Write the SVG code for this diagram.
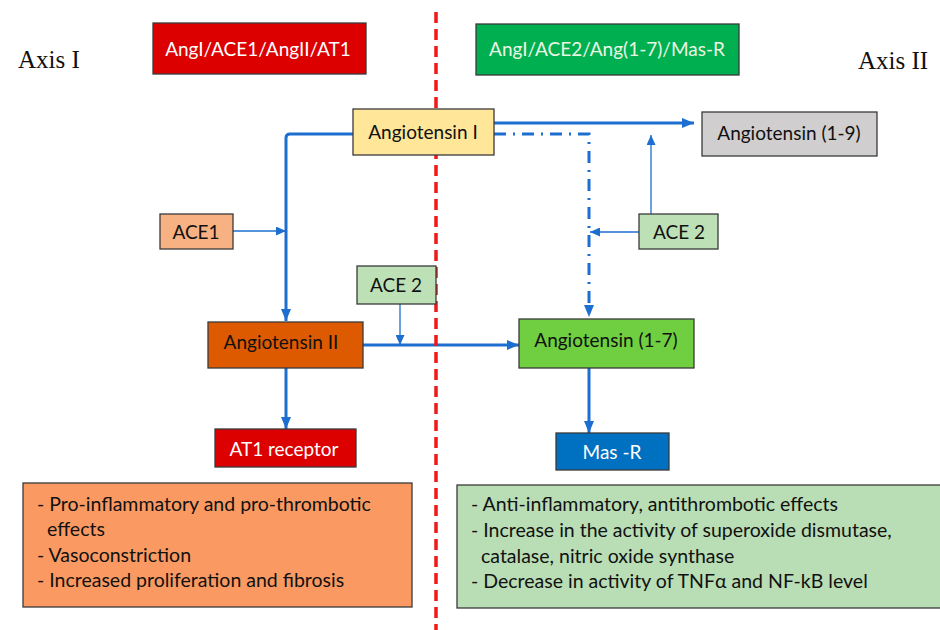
<svg xmlns="http://www.w3.org/2000/svg" width="940" height="630" viewBox="0 0 940 630">
<style>
.box{stroke:#3a3a3a;stroke-width:1.3}
.t{font-family:Lato,"Liberation Sans",sans-serif;font-size:19px;fill:#111;text-anchor:middle}
.w{fill:#fff}
.axis{font-family:"Liberation Serif",serif;font-size:25px;fill:#111}
.lst{font-family:Lato,"Liberation Sans",sans-serif;font-size:19.5px;fill:#111}
.thick{stroke:#1c6fd0;stroke-width:3;fill:none}
.thin{stroke:#1c6fd0;stroke-width:1.3;fill:none}
</style>
<defs>
<marker id="ah" markerUnits="userSpaceOnUse" markerWidth="12" markerHeight="10" refX="12" refY="5" orient="auto"><path d="M0,0 L12,5 L0,10 z" fill="#1c6fd0"/></marker>
<marker id="ahs" markerUnits="userSpaceOnUse" markerWidth="10" markerHeight="9" refX="10" refY="4.5" orient="auto"><path d="M0,0 L10,4.5 L0,9 z" fill="#1c6fd0"/></marker>
</defs>
<rect width="940" height="630" fill="#fff"/>
<g id="connectors">
<path class="thick" d="M353,134 H290 Q286,134 286,138 V321" marker-end="url(#ah)"/>
<path class="thin" d="M233,231 H286" marker-end="url(#ahs)"/>
<path class="thick" d="M494,123 H694" marker-end="url(#ah)"/>
<path class="thick" d="M494,134 H589 V317" stroke-dasharray="12 7 2 7" marker-end="url(#ah)"/>
<path class="thin" d="M651,214 V135" marker-end="url(#ahs)"/>
<path class="thin" d="M639,232 H590" marker-end="url(#ahs)"/>
<path class="thin" d="M400,304 V345" marker-end="url(#ahs)"/>
<path class="thick" d="M363,345 H519" marker-end="url(#ah)"/>
<path class="thick" d="M286,368 V429" marker-end="url(#ah)"/>
<path class="thick" d="M589,368 V433" marker-end="url(#ah)"/>
</g>
<line x1="436" y1="12" x2="436" y2="630" stroke="#f01818" stroke-width="3.5" stroke-dasharray="11 6"/>
<text class="axis" x="18" y="68">Axis I</text>
<text class="axis" x="858" y="69">Axis II</text>
<g id="axis1-title"><rect class="box" x="153" y="23" width="213" height="51" fill="#dd0000"/><text class="t w" x="258" y="56">AngI/ACE1/AngII/AT1</text></g>
<g id="axis2-title"><rect class="box" x="476" y="24" width="263" height="51" fill="#00b050"/><text class="t" x="607" y="56" style="fill:#eaf6e4">AngI/ACE2/Ang(1-7)/Mas-R</text></g>
<g id="ang1"><rect class="box" x="353" y="109" width="141" height="46" fill="#ffe699"/><text class="t" x="423" y="139">Angiotensin I</text></g>
<g id="ang19"><rect class="box" x="702" y="112" width="175" height="44" fill="#d0cece"/><text class="t" x="789" y="140">Angiotensin (1-9)</text></g>
<g id="ace1"><rect class="box" x="160" y="214" width="73" height="35" fill="#f8b183"/><text class="t" x="196" y="239">ACE1</text></g>
<g id="ace2-right"><rect class="box" x="639" y="214" width="79" height="35" fill="#bde0b6"/><text class="t" x="679" y="239">ACE 2</text></g>
<g id="ace2-mid"><rect class="box" x="357" y="266" width="79" height="38" fill="#bde0b6"/><text class="t" x="396" y="292">ACE 2</text></g>
<g id="ang2"><rect class="box" x="208" y="322" width="155" height="46" fill="#de5a00"/><text class="t" x="281" y="349">Angiotensin II</text></g>
<g id="ang17"><rect class="box" x="519" y="319" width="175" height="49" fill="#70cf40"/><text class="t" x="606" y="347">Angiotensin (1-7)</text></g>
<g id="at1"><rect class="box" x="215" y="429" width="141" height="38" fill="#dd0000"/><text class="t w" x="284" y="456">AT1 receptor</text></g>
<g id="masr"><rect class="box" x="556" y="433" width="113" height="37" fill="#0070c0"/><text class="t w" x="612" y="459">Mas -R</text></g>
<g id="effects-axis1"><rect class="box" x="23" y="483" width="389" height="124" fill="#fa9a62"/>
<text class="lst" x="37" y="511">- Pro-inflammatory and pro-thrombotic</text>
<text class="lst" x="47" y="536">effects</text>
<text class="lst" x="37" y="562">- Vasoconstriction</text>
<text class="lst" x="37" y="587">- Increased proliferation and fibrosis</text>
</g>
<g id="effects-axis2"><rect class="box" x="457" y="485" width="486" height="123" fill="#b9ddb4"/>
<text class="lst" x="471" y="511">- Anti-inflammatory, antithrombotic effects</text>
<text class="lst" x="471" y="537">- Increase in the activity of superoxide dismutase,</text>
<text class="lst" x="481" y="563">catalase, nitric oxide synthase</text>
<text class="lst" x="471" y="588">- Decrease in activity of TNFα and NF-kB level</text>
</g>
</svg>
